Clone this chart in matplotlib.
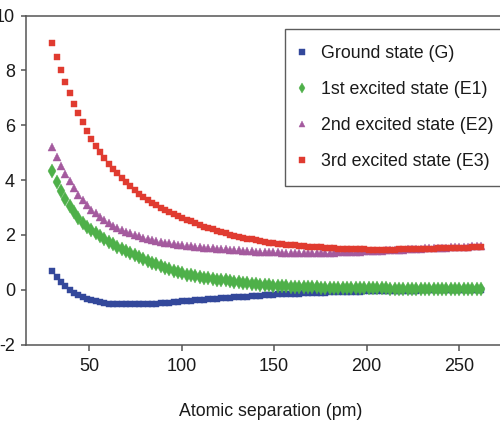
import numpy as np
import matplotlib
matplotlib.use("Agg")
import matplotlib.pyplot as plt

# ---------------- data ----------------
x_start, x_end, n_points = 30.0, 262.0, 100
separation = np.linspace(x_start, x_end, n_points)

ground = [0.67, 0.46, 0.27, 0.12, -0.01, -0.12, -0.21, -0.28, -0.34, -0.39,
          -0.43, -0.46, -0.49, -0.51, -0.52, -0.53, -0.535, -0.54, -0.54, -0.54,
          -0.535, -0.53, -0.525, -0.515, -0.505, -0.495, -0.485, -0.47, -0.455, -0.44,
          -0.42, -0.41, -0.40, -0.385, -0.37, -0.36, -0.35, -0.335, -0.325, -0.31,
          -0.30, -0.29, -0.28, -0.27, -0.26, -0.25, -0.24, -0.23, -0.22, -0.205,
          -0.19, -0.182, -0.175, -0.168, -0.161, -0.154, -0.147, -0.14, -0.134, -0.128,
          -0.122, -0.116, -0.11, -0.105, -0.10, -0.095, -0.09, -0.085, -0.08, -0.076,
          -0.072, -0.068, -0.064, -0.06, -0.057, -0.054, -0.051, -0.048, -0.045, -0.042,
          -0.04, -0.038, -0.036, -0.034, -0.032, -0.03, -0.028, -0.026, -0.024, -0.022,
          -0.02, -0.019, -0.018, -0.017, -0.016, -0.015, -0.014, -0.013, -0.012, -0.011]

excited1 = [4.33, 3.94, 3.61, 3.32, 3.06, 2.83, 2.62, 2.44, 2.30, 2.17,
            2.05, 1.94, 1.84, 1.745, 1.655, 1.57, 1.49, 1.41, 1.335, 1.265,
            1.18, 1.11, 1.05, 0.99, 0.93, 0.86, 0.80, 0.74, 0.69, 0.64,
            0.59, 0.55, 0.52, 0.49, 0.46, 0.435, 0.41, 0.39, 0.37, 0.35,
            0.335, 0.315, 0.295, 0.275, 0.255, 0.235, 0.215, 0.20, 0.185, 0.17,
            0.155, 0.145, 0.135, 0.125, 0.12, 0.11, 0.105, 0.10, 0.095, 0.09,
            0.085, 0.08, 0.077, 0.074, 0.07, 0.067, 0.064, 0.06, 0.057, 0.054,
            0.05, 0.049, 0.048, 0.047, 0.046, 0.045, 0.044, 0.043, 0.042, 0.041,
            0.04, 0.04, 0.04, 0.04, 0.04, 0.04, 0.04, 0.04, 0.04, 0.04,
            0.035, 0.035, 0.035, 0.035, 0.035, 0.03, 0.03, 0.03, 0.03, 0.03]

excited2 = [5.20, 4.85, 4.52, 4.23, 3.95, 3.70, 3.47, 3.26, 3.08, 2.92,
            2.78, 2.65, 2.54, 2.43, 2.34, 2.26, 2.19, 2.12, 2.06, 2.00,
            1.95, 1.90, 1.86, 1.82, 1.785, 1.75, 1.72, 1.69, 1.665, 1.64,
            1.62, 1.60, 1.58, 1.565, 1.55, 1.535, 1.52, 1.51, 1.50, 1.49,
            1.48, 1.465, 1.45, 1.435, 1.42, 1.41, 1.40, 1.39, 1.38, 1.375,
            1.37, 1.365, 1.36, 1.355, 1.35, 1.35, 1.348, 1.346, 1.345, 1.345,
            1.345, 1.346, 1.348, 1.35, 1.352, 1.355, 1.36, 1.365, 1.37, 1.375,
            1.38, 1.387, 1.394, 1.401, 1.408, 1.415, 1.423, 1.431, 1.439, 1.447,
            1.455, 1.463, 1.471, 1.479, 1.487, 1.495, 1.502, 1.509, 1.516, 1.523,
            1.53, 1.537, 1.544, 1.551, 1.558, 1.565, 1.571, 1.577, 1.584, 1.59]

excited3 = [9.00, 8.50, 8.03, 7.59, 7.18, 6.79, 6.43, 6.10, 5.80, 5.51,
            5.25, 5.01, 4.79, 4.59, 4.41, 4.25, 4.08, 3.92, 3.77, 3.63,
            3.50, 3.38, 3.27, 3.17, 3.08, 2.99, 2.91, 2.83, 2.76, 2.69,
            2.62, 2.55, 2.49, 2.42, 2.36, 2.30, 2.25, 2.20, 2.15, 2.10,
            2.05, 2.01, 1.97, 1.93, 1.89, 1.86, 1.83, 1.80, 1.77, 1.745,
            1.72, 1.70, 1.68, 1.66, 1.645, 1.63, 1.615, 1.60, 1.585, 1.57,
            1.56, 1.55, 1.54, 1.53, 1.52, 1.51, 1.50, 1.495, 1.49, 1.485,
            1.48, 1.475, 1.47, 1.465, 1.46, 1.46, 1.46, 1.46, 1.46, 1.465,
            1.47, 1.475, 1.48, 1.48, 1.485, 1.49, 1.495, 1.50, 1.50, 1.505,
            1.51, 1.515, 1.52, 1.52, 1.525, 1.53, 1.535, 1.54, 1.545, 1.55]

labels = ["Ground state (G)", "1st excited state (E1)",
          "2nd excited state (E2)", "3rd excited state (E3)"]
x_ticks = [50, 100, 150, 200, 250]
y_ticks = [-2, 0, 2, 4, 6, 8, 10]
x_label = "Atomic separation (pm)"

# ---------------- style ----------------
plt.rcParams["font.family"] = ["Liberation Sans", "DejaVu Sans"]
plt.rcParams["axes.unicode_minus"] = False

colors = ["#33489b", "#4eb049", "#a45a9e", "#e03b30"]
markers = ["s", "d", "^", "s"]
msizes = [4.9, 7.0, 6.0, 4.9]
series = [ground, excited1, excited2, excited3]

fig = plt.figure(figsize=(5.0, 4.32), dpi=100)
W, H = 500, 432
ax = fig.add_axes([26 / W, 1 - 344.5 / H, 1 - 26 / W, 329 / H])

handles = []
for ys, c, m, ms, lab in zip(series, colors, markers, msizes, labels):
    h, = ax.plot(separation, ys, linestyle="none", marker=m, markersize=ms,
                 markerfacecolor=c, markeredgecolor=c, markeredgewidth=0.3,
                 label=lab)
    handles.append(h)

ax.set_xlim(15.75, 272.2)
ax.set_ylim(-2, 10)
ax.set_xticks(x_ticks)
ax.set_yticks(y_ticks)
ax.set_yticklabels([str(v) for v in y_ticks])

spine_c = "#555555"
for s in ["left", "bottom", "top"]:
    ax.spines[s].set_color(spine_c)
    ax.spines[s].set_linewidth(1.1)
ax.spines["right"].set_visible(False)
ax.tick_params(axis="both", colors=spine_c, labelcolor="#1a1a1a",
               labelsize=13, width=1.1)
ax.tick_params(axis="y", length=3.5, pad=4.5)
ax.tick_params(axis="x", length=4, pad=6)

ax.set_xlabel(x_label, fontsize=12.8, color="#1a1a1a")
ax.xaxis.label.set_verticalalignment("center")
ax.xaxis.set_label_coords((271 - 26) / 474, -(411 - 344.5) / 329)

leg = ax.legend(handles=handles, loc="upper left",
                bbox_to_anchor=(285 / W, 1 - 29.3 / H),
                bbox_transform=fig.transFigure, borderaxespad=0,
                fontsize=12.8, frameon=True, fancybox=False,
                handlelength=0.2, handletextpad=0.93, borderpad=0.87,
                labelspacing=1.08, markerscale=0.8)
leg.get_frame().set_edgecolor("#333333")
leg.get_frame().set_linewidth(1.0)
for t in leg.get_texts():
    t.set_color("#1a1a1a")

fig.savefig("out.png", dpi=100)
